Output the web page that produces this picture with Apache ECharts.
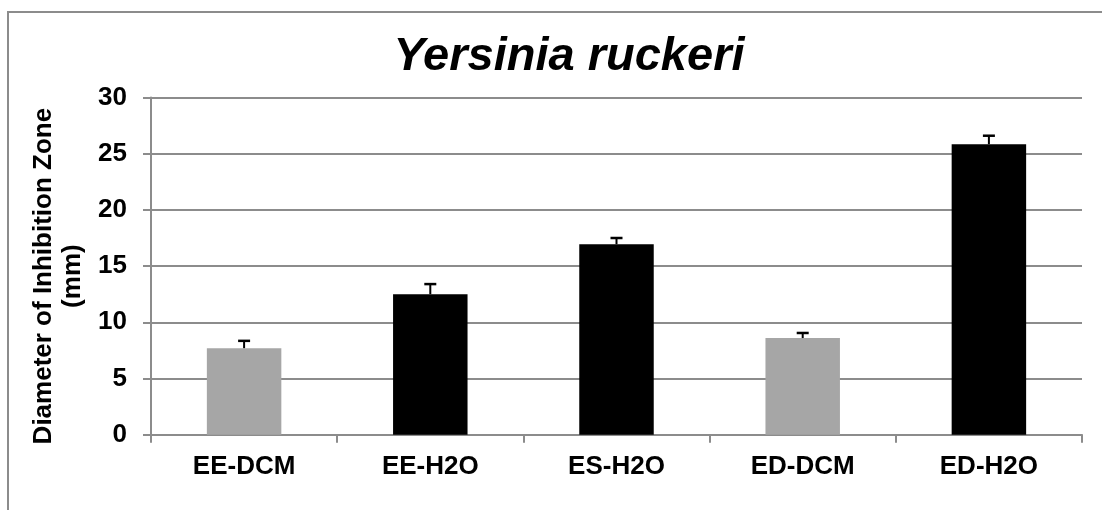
<!DOCTYPE html>
<html>
<head>
<meta charset="utf-8">
<script src="https://cdn.jsdelivr.net/npm/echarts@6/dist/echarts.min.js"></script>
<style>
  html, body { margin: 0; padding: 0; background: #fff; }
  #chart { width: 1102px; height: 510px; }
</style>
</head>
<body>
<div id="chart"></div>
<script>
const categories = ['EE-DCM', 'EE-H2O', 'ES-H2O', 'ED-DCM', 'ED-H2O']
const zoneValues = [7.7, 12.5, 16.95, 8.6, 25.85]
const zoneErrors = [0.65, 0.9, 0.55, 0.45, 0.75]
const barColors = ['#a6a6a6', '#000000', '#000000', '#a6a6a6', '#000000']

const font = '"Liberation Sans", Arial, sans-serif'

const chart = echarts.init(document.getElementById('chart'))

const option = {
  backgroundColor: '#fff',
  animation: false,
  title: {
    text: 'Yersinia ruckeri',
    left: 564,
    textAlign: 'center',
    top: 29,
    textStyle: {
      fontFamily: font,
      fontSize: 47,
      fontStyle: 'italic',
      fontWeight: 'bold',
      color: '#000'
    }
  },
  graphic: [
    {
      type: 'rect',
      shape: { x: 8, y: 12, width: 1200, height: 700 },
      style: { fill: null, stroke: '#8c8c8c', lineWidth: 2 },
      silent: true
    }
  ],
  grid: {
    left: 151,
    right: 20,
    top: 97.5,
    bottom: 75.3,
    containLabel: false,
    outerBoundsMode: 'none'
  },
  xAxis: {
    type: 'category',
    data: categories,
    axisLine: { lineStyle: { color: '#8c8c8c', width: 2 } },
    axisTick: { show: true, length: 8, lineStyle: { color: '#8c8c8c', width: 2 } },
    axisLabel: {
      margin: 19,
      fontFamily: font,
      fontSize: 26,
      fontWeight: 'bold',
      color: '#000'
    }
  },
  yAxis: {
    type: 'value',
    min: 0,
    max: 30,
    interval: 5,
    name: 'Diameter of Inhibition Zone\n(mm)',
    nameLocation: 'middle',
    nameRotate: 90,
    nameGap: 62,
    nameTextStyle: {
      fontFamily: font,
      fontSize: 26,
      fontWeight: 'bold',
      color: '#000',
      lineHeight: 29,
      padding: [0, 20, 0, 0]
    },
    axisLine: { show: true, lineStyle: { color: '#8c8c8c', width: 2 } },
    axisTick: { show: true, length: 8, lineStyle: { color: '#8c8c8c', width: 2 } },
    axisLabel: {
      margin: 24,
      fontFamily: font,
      fontSize: 26,
      fontWeight: 'bold',
      color: '#000'
    },
    splitLine: { lineStyle: { color: '#8c8c8c', width: 2 } }
  },
  series: [
    {
      type: 'bar',
      barWidth: '40%',
      data: zoneValues.map((v, i) => ({ value: v, itemStyle: { color: barColors[i] } }))
    },
    {
      type: 'custom',
      z: 10,
      data: zoneValues.map((v, i) => [i, v, v + zoneErrors[i]]),
      renderItem: (params, api) => {
        const base = api.coord([api.value(0), api.value(1)])
        const top = api.coord([api.value(0), api.value(2)])
        const half = 6
        return {
          type: 'group',
          children: [
            {
              type: 'line',
              shape: { x1: base[0], y1: base[1], x2: top[0], y2: top[1] },
              style: { stroke: '#000', lineWidth: 2 }
            },
            {
              type: 'line',
              shape: { x1: top[0] - half, y1: top[1], x2: top[0] + half, y2: top[1] },
              style: { stroke: '#000', lineWidth: 2.5 }
            }
          ]
        }
      }
    }
  ]
}

chart.setOption(option)
</script>
</body>
</html>
